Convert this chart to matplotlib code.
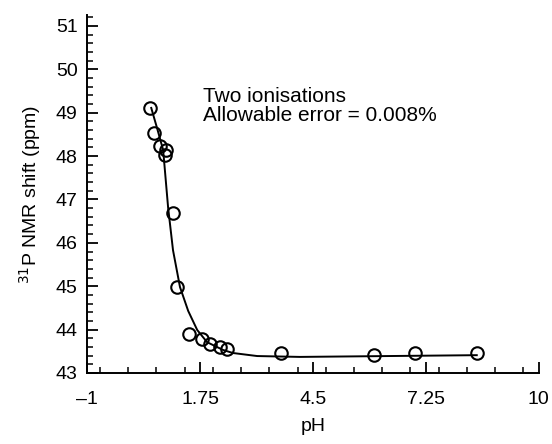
import numpy as np
import matplotlib.pyplot as plt
from matplotlib.ticker import MultipleLocator, FixedLocator

plt.rcParams['font.family'] = ['Liberation Sans', 'DejaVu Sans']

# measured points
ph = [0.53, 0.63, 0.78, 0.92, 0.90, 1.09, 1.19, 1.48, 1.80, 1.99, 2.24, 2.41,
      3.72, 5.98, 6.98, 8.49]
shift = [49.11, 48.53, 48.23, 48.14, 48.02, 46.69, 44.98, 43.90, 43.78, 43.67,
         43.60, 43.55, 43.46, 43.41, 43.46, 43.46]

# fitted curve
fit_ph = [0.56, 0.70, 0.85, 0.97, 1.09, 1.26, 1.46, 1.68, 1.92, 2.31, 2.55,
          3.14, 4.18, 8.49]
fit_shift = [49.11, 48.65, 48.14, 46.82, 45.83, 44.98, 44.43, 43.99, 43.71,
             43.53, 43.46, 43.39, 43.37, 43.41]

xticks = [-1, 1.75, 4.5, 7.25, 10]
xticklabels = ['\u20131', '1.75', '4.5', '7.25', '10']
yticks = [43, 44, 45, 46, 47, 48, 49, 50, 51]

fig = plt.figure(figsize=(5.52, 4.44), dpi=100)
ax = fig.add_axes([0.158, 0.160, 0.818, 0.806])

ax.plot(fit_ph, fit_shift, color='black', lw=1.4, zorder=2)
ax.plot(ph, shift, 'o', ms=9, mfc='none', mec='black', mew=1.5, zorder=3)

ax.set_xlim(-1, 10)
ax.set_ylim(43, 51.25)
ax.xaxis.set_major_locator(FixedLocator(xticks))
ax.set_xticklabels(xticklabels)
ax.xaxis.set_minor_locator(MultipleLocator(0.6875))
ax.set_yticks(yticks)
ax.yaxis.set_minor_locator(MultipleLocator(0.2))

for s in ['top', 'right']:
    ax.spines[s].set_visible(False)
for s in ['left', 'bottom']:
    ax.spines[s].set_linewidth(1.4)

ax.tick_params(which='major', direction='in', length=8, width=1.3,
               labelsize=14)
ax.tick_params(which='minor', direction='in', length=4.5, width=1.1)
ax.tick_params(axis='x', which='major', pad=13)
ax.tick_params(axis='y', which='major', pad=7)

ax.set_xlabel('pH', fontsize=14, labelpad=7)
ax.set_ylabel('$^{31}$P NMR shift (ppm)', fontsize=14, labelpad=9)

ax.text(0.256, 0.798, 'Two ionisations\nAllowable error = 0.008%',
        transform=ax.transAxes, fontsize=15, va='top', ha='left',
        linespacing=0.95)

fig.savefig('out.png', dpi=100)
